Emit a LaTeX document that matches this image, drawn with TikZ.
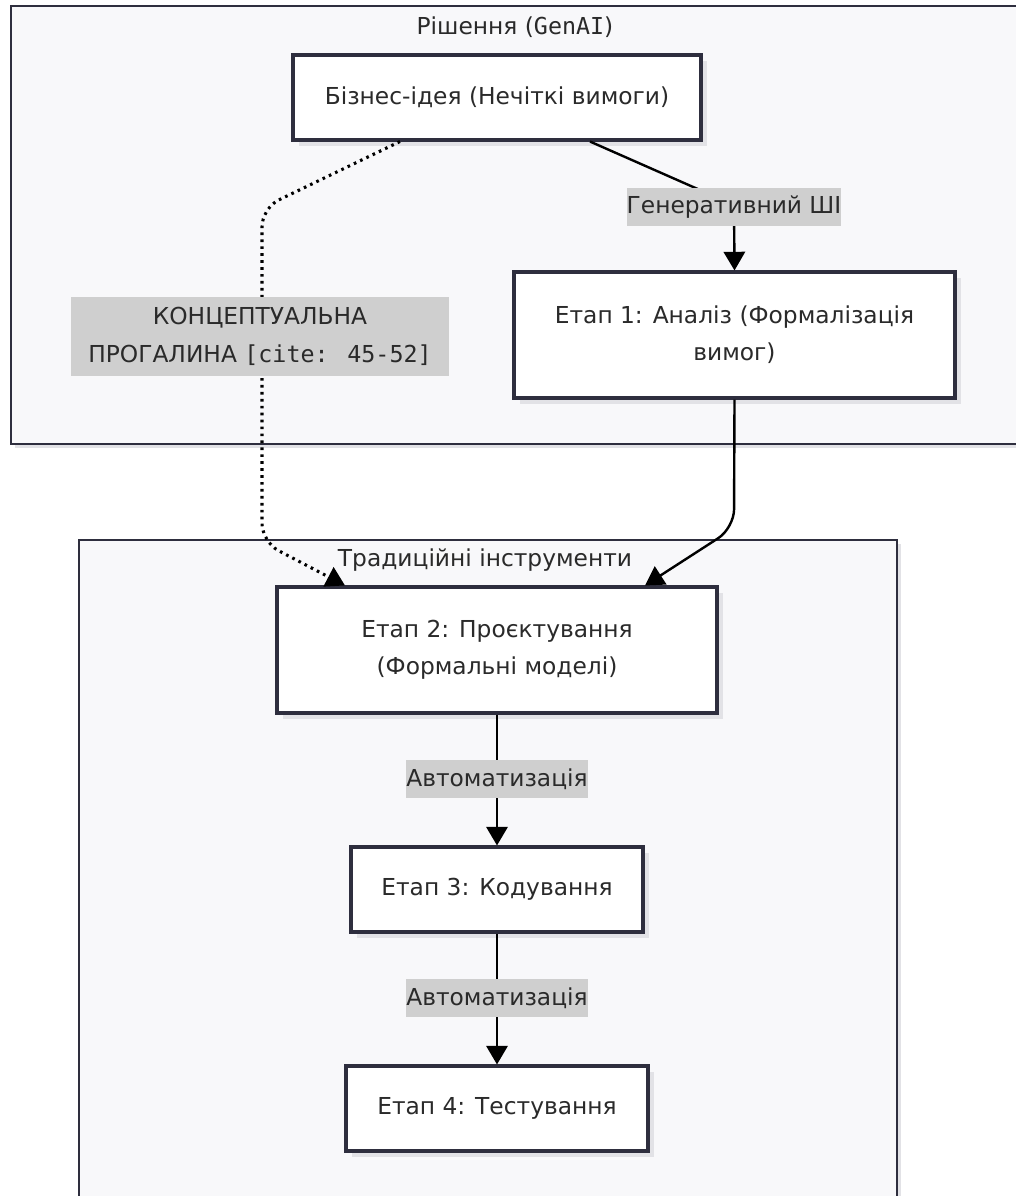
\documentclass[tikz,border=0pt]{standalone}
\usepackage{fontspec}
\setmainfont{DejaVu Sans}
\newfontfamily\monof{DejaVu Sans Mono}
\usetikzlibrary{arrows.meta,shadows,calc}
\definecolor{ink}{HTML}{2A2A2A}
\definecolor{edge}{HTML}{2E2E3E}
\definecolor{clusterfill}{HTML}{F8F8FA}
\definecolor{labelbg}{HTML}{CFCFCF}
\definecolor{shade}{HTML}{E2E2E6}
\begin{document}
\begin{tikzpicture}[x=0.75pt,y=-0.75pt,
  every node/.style={font=\fontsize{17.5}{28}\selectfont, text=ink},
  cluster/.style={draw=edge, line width=1.7pt, fill=clusterfill,
    drop shadow={shadow xshift=3pt, shadow yshift=-3pt, fill=shade, opacity=1}},
  stepbox/.style={draw=edge, line width=2.3pt, fill=white, align=center,
    inner sep=0pt,
    drop shadow={shadow xshift=4.5pt, shadow yshift=-4.5pt, fill=shade, opacity=1}},
  elabel/.style={fill=labelbg, inner sep=0pt, align=center},
  flow/.style={draw=black, line width=1.8pt, rounded corners=14pt,
    -{Triangle[length=14pt,width=16pt]}},
  gapflow/.style={flow, dash pattern=on 2pt off 3.2pt, line width=2.3pt},
]
\useasboundingbox (0,0) rectangle (1016,1196);
\clip (0,0) rectangle (1016,1196);
\fill[white] (0,0) rectangle (1016,1196);

% clusters
\draw[cluster] (11,6) rectangle (1040,444);
\draw[cluster] (79,540) rectangle (897,1240);
\node (t1) at (515,27) {Рішення ({\monof GenAI})};
\node (t2) at (485,560) {Традиційні інструменти};

% process steps
\node[stepbox, minimum width=408*0.75pt, minimum height=85*0.75pt] (idea) at (497,97.5)
  {Бізнес-ідея (Нечіткі вимоги)};
\node[stepbox, minimum width=441*0.75pt, minimum height=126*0.75pt] (s1) at (734.5,335)
  {Етап 1: Аналіз (Формалізація\\вимог)};
\node[stepbox, minimum width=440*0.75pt, minimum height=126*0.75pt] (s2) at (497,650)
  {Етап 2: Проєктування\\(Формальні моделі)};
\node[stepbox, minimum width=292*0.75pt, minimum height=85*0.75pt] (s3) at (497,889.5)
  {Етап 3: Кодування};
\node[stepbox, minimum width=302*0.75pt, minimum height=85*0.75pt] (s4) at (497,1108.5)
  {Етап 4: Тестування};

% connectors
\draw[gapflow] ($(idea.south)+(-97,0)$) -- (262,208) -- (262,542) -- ($(s2.north)+(-152,0)$);
\draw[flow] ($(idea.south)+(93,0)$) -- (734,205) -- (s1.north);
\draw[flow] (s1.south) -- (734,528) -- ($(s2.north)+(148,0)$);
\draw[flow] (s2.south) -- (s3.north);
\draw[flow] (s3.south) -- (s4.north);

% edge labels
\node[elabel, minimum width=378*0.75pt, minimum height=79*0.75pt] (gap) at (260,336.5)
  {КОНЦЕПТУАЛЬНА\\ПРОГАЛИНА {\monof[cite: 45-52]}};
\node[elabel, minimum width=210*0.75pt, minimum height=38*0.75pt] (gen) at (734,207)
  {Генеративний ШІ};
\node[elabel, minimum width=179*0.75pt, minimum height=38*0.75pt] (a1) at (497,779)
  {Автоматизація};
\node[elabel, minimum width=179*0.75pt, minimum height=38*0.75pt] (a2) at (497,998)
  {Автоматизація};
\end{tikzpicture}
\end{document}
